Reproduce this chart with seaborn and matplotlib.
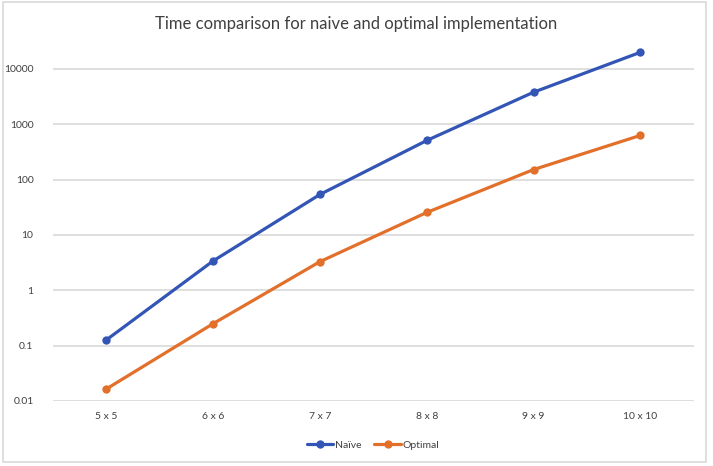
import pandas as pd
import matplotlib.pyplot as plt
import seaborn as sns
from matplotlib.patches import Rectangle

# values (log scale)
sizes = ["5 x 5", "6 x 6", "7 x 7", "8 x 8", "9 x 9", "10 x 10"]
naive = [0.127, 3.4, 54, 510, 3800, 20000]
optimal = [0.0165, 0.25, 3.3, 25.5, 152, 630]

df = pd.DataFrame({
    "size": sizes * 2,
    "time": naive + optimal,
    "method": ["Naïve"] * len(sizes) + ["Optimal"] * len(sizes),
})

sns.set_style("white")
plt.rcParams["font.family"] = ["Lato", "DejaVu Sans"]

fig = plt.figure(figsize=(7.13, 4.66), dpi=100)
ax = fig.add_axes([0.0743, 0.1395, 0.8987, 0.76])

sns.lineplot(data=df, x="size", y="time", hue="method", marker="o",
             palette=["#3355B5", "#E2702B"], linewidth=2.3, markersize=6,
             markeredgewidth=0, ax=ax)

ax.set_yscale("log")
ax.set_ylim(0.01, 10 ** 4.4)
ax.set_xlim(-0.5, 5.5)
ax.set_yticks([0.01, 0.1, 1, 10, 100, 1000, 10000])
ax.set_yticklabels(["0.01", "0.1", "1", "10", "100", "1000", "10000"])
ax.minorticks_off()
ax.yaxis.grid(True, color="#d9d9d9", linewidth=1.2)
ax.xaxis.grid(False)
for s in ax.spines.values():
    s.set_visible(False)
ax.tick_params(axis="both", labelsize=7.5, colors="#404040", length=0)
ax.tick_params(axis="x", pad=8)
ax.tick_params(axis="y", pad=14)
ax.set_xlabel("")
ax.set_ylabel("")

fig.suptitle("Time comparison for naive and optimal implementation",
             y=0.965, fontsize=12, color="#404040")

ax.legend(loc="upper center", bbox_to_anchor=(0.5, -0.085), ncol=2, frameon=False,
          fontsize=7.5, handlelength=2.5, columnspacing=1.2, handletextpad=0.2,
          labelcolor="#404040")

fig.patches.append(Rectangle((0.004, 0.008), 0.986, 0.988, transform=fig.transFigure,
                             fill=False, edgecolor="#d9d9d9", linewidth=1.2))

fig.savefig("out.png", dpi=100)
